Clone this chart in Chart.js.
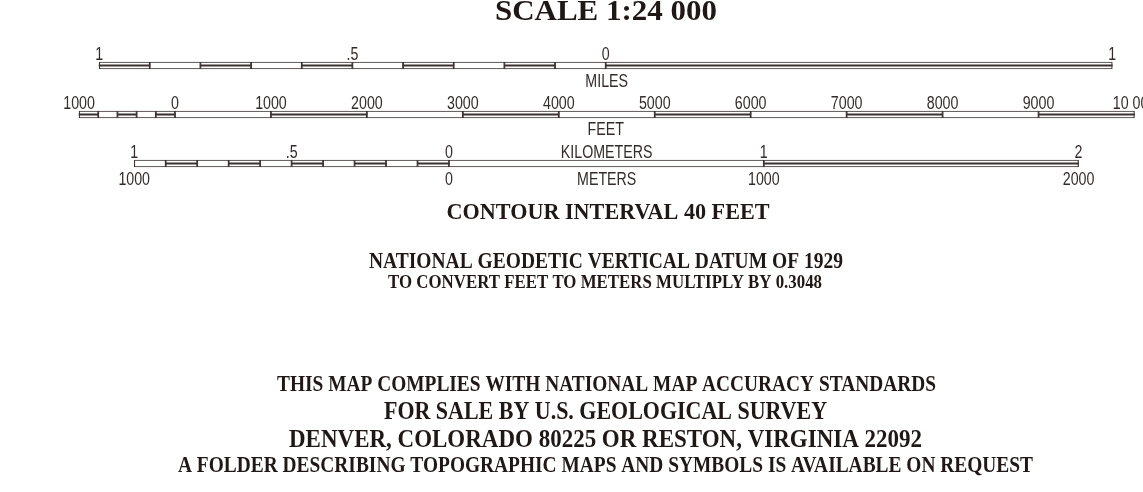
<!DOCTYPE html>
<html><head><meta charset="utf-8">
<script src="https://cdn.jsdelivr.net/npm/chart.js@4"></script>
<style>html,body{margin:0;padding:0;background:#fff;}canvas{display:block;}</style>
</head><body>
<canvas id="c" width="1143" height="492"></canvas>
<script>
// ---- data ----
const bars = ['MILES', 'FEET', 'KILOMETERS'];

const miBreaks = [-1, -0.9, -0.8, -0.7, -0.6, -0.5, -0.4, -0.3, -0.2, -0.1, 0, 1];
const miFilled = [1, 0, 1, 0, 1, 0, 1, 0, 1, 0, 1];
const miTickValues = [-1, -0.5, 0, 1];
const miTickLabels = ['1', '.5', '0', '1'];

const ftBreaks = [-1000, -800, -600, -400, -200, 0, 1000, 2000, 3000, 4000, 5000, 6000, 7000, 8000, 9000, 10000];
const ftFilled = [1, 0, 1, 0, 1, 0, 1, 0, 1, 0, 1, 0, 1, 0, 1];
const ftTickValues = [-1000, 0, 1000, 2000, 3000, 4000, 5000, 6000, 7000, 8000, 9000, 10000];
const ftTickLabels = ['1000', '0', '1000', '2000', '3000', '4000', '5000', '6000', '7000', '8000', '9000', '10 000'];

const kmBreaks = [-1, -0.9, -0.8, -0.7, -0.6, -0.5, -0.4, -0.3, -0.2, -0.1, 0, 1, 2];
const kmFilled = [0, 1, 0, 1, 0, 1, 0, 1, 0, 1, 0, 1];
const kmTickValues = [-1, -0.5, 0, 1, 2];
const kmTickLabels = ['1', '.5', '0', '1', '2'];

const mTickValues = [-1000, 0, 1000, 2000];
const mTickLabels = ['1000', '0', '1000', '2000'];

const titleText = 'SCALE 1:24 000';
const noteTexts = [
  'CONTOUR INTERVAL 40 FEET',
  'NATIONAL GEODETIC VERTICAL DATUM OF 1929',
  'TO CONVERT FEET TO METERS MULTIPLY BY 0.3048',
  'THIS MAP COMPLIES WITH NATIONAL MAP ACCURACY STANDARDS',
  'FOR SALE BY U.S. GEOLOGICAL SURVEY',
  'DENVER, COLORADO 80225 OR RESTON, VIRGINIA 22092',
  'A FOLDER DESCRIBING TOPOGRAPHIC MAPS AND SYMBOLS IS AVAILABLE ON REQUEST'
];

// ---- build ----
const LINE = '#3a3230';
function segments(breaks, filled, cat, onlyFilled) {
  const out = [];
  for (let i = 0; i < breaks.length - 1; i++) {
    if (onlyFilled && !filled[i]) continue;
    out.push({ x: [breaks[i], breaks[i + 1]], y: cat });
  }
  return out;
}
function outlineSet(breaks, filled, cat, axis) {
  return { data: segments(breaks, filled, cat, false), xAxisID: axis, backgroundColor: '#ffffff',
    borderColor: LINE, borderWidth: 1.2, borderSkipped: false, barThickness: 7, grouped: false, order: 2 };
}
function fillSet(breaks, filled, cat, axis) {
  return { data: segments(breaks, filled, cat, true), xAxisID: axis, backgroundColor: LINE,
    borderWidth: 0, barThickness: 1.4, grouped: false, order: 1 };
}

// ground scale: pixels per metre on the page, and where each bar's zero sits
const W = 1143;
const PX_PER_M = 506.6 / 1609.344;
const zeroPx = { mi: 605.7, ft: 175, km: 449 };
const unitM = { mi: 1609.344, ft: 0.3048, km: 1000 };
function axisRange(k) {
  const perUnit = PX_PER_M * unitM[k];
  return { type: 'linear', axis: 'x', display: false, min: -zeroPx[k] / perUnit, max: (W - zeroPx[k]) / perUnit };
}

function drawTxt(ctx, s, x, y, font, sx, color) {
  ctx.save(); ctx.font = font; ctx.fillStyle = color; ctx.textAlign = 'center'; ctx.textBaseline = 'alphabetic';
  ctx.translate(x, y); ctx.scale(sx, 1); ctx.fillText(s, 0, 0); ctx.restore();
}
function fitTxt(ctx, s, x, y, font, width, color) {
  ctx.save(); ctx.font = font; const w = ctx.measureText(s).width; ctx.restore();
  drawTxt(ctx, s, x, y, font, width / w, color);
}

const labelPlugin = {
  id: 'scaleLabels',
  afterDraw(chart) {
    const ctx = chart.ctx, sc = chart.scales;
    const yc = i => sc.y.getPixelForValue(i);
    const LF = '18px "Liberation Sans", Arial, sans-serif', SX = 0.79, TC = '#332c2a';
    const cx = sc.xMi.getPixelForValue(0);
    // miles
    miTickValues.forEach((v, i) => drawTxt(ctx, miTickLabels[i], sc.xMi.getPixelForValue(v), yc(0) - 5.5, LF, SX, TC));
    drawTxt(ctx, bars[0], cx + 1, yc(0) + 21, LF, SX, TC);
    // feet
    ftTickValues.forEach((v, i) => drawTxt(ctx, ftTickLabels[i], sc.xFt.getPixelForValue(v), yc(1) - 6, LF, SX, TC));
    drawTxt(ctx, bars[1], cx, yc(1) + 20.5, LF, SX, TC);
    // kilometers / meters
    kmTickValues.forEach((v, i) => drawTxt(ctx, kmTickLabels[i], sc.xKm.getPixelForValue(v), yc(2) - 5.5, LF, SX, TC));
    drawTxt(ctx, bars[2], cx + 1, yc(2) - 5.5, LF, SX, TC);
    mTickValues.forEach((v, i) => drawTxt(ctx, mTickLabels[i], sc.xKm.getPixelForValue(v / 1000), yc(2) + 21.5, LF, SX, TC));
    drawTxt(ctx, 'METERS', cx + 1, yc(2) + 21.5, LF, SX, TC);

    // headings & notes
    const HC = '#201816';
    fitTxt(ctx, titleText, 606, 20, 'bold 29px "Liberation Serif", serif', 222, HC);
    const lay = [
      [608, 219, 'bold 23px', 323],
      [606, 268, 'bold 23px', 474],
      [605, 288, 'bold 19px', 434],
      [606.5, 391, 'bold 23px', 659],
      [605.5, 419, 'bold 26px', 443],
      [605.5, 447, 'bold 26px', 633],
      [605.5, 472, 'bold 23px', 855]
    ];
    noteTexts.forEach((t, i) => {
      const L = lay[i];
      fitTxt(ctx, t, L[0], L[1], L[2] + ' "Liberation Serif", serif', L[3], HC);
    });
  }
};

new Chart(document.getElementById('c'), {
  type: 'bar',
  data: {
    labels: bars,
    datasets: [
      outlineSet(miBreaks, miFilled, bars[0], 'xMi'), fillSet(miBreaks, miFilled, bars[0], 'xMi'),
      outlineSet(ftBreaks, ftFilled, bars[1], 'xFt'), fillSet(ftBreaks, ftFilled, bars[1], 'xFt'),
      outlineSet(kmBreaks, kmFilled, bars[2], 'xKm'), fillSet(kmBreaks, kmFilled, bars[2], 'xKm')
    ]
  },
  options: {
    indexAxis: 'y',
    responsive: false,
    animation: false,
    layout: { padding: { top: 41, bottom: 304, left: 0, right: 0 } },
    scales: {
      y: { type: 'category', labels: bars, display: false, offset: true },
      xMi: axisRange('mi'),
      xFt: axisRange('ft'),
      xKm: axisRange('km')
    },
    plugins: { legend: { display: false }, tooltip: { enabled: false }, title: { display: false } }
  },
  plugins: [labelPlugin]
});
</script>
</body></html>
